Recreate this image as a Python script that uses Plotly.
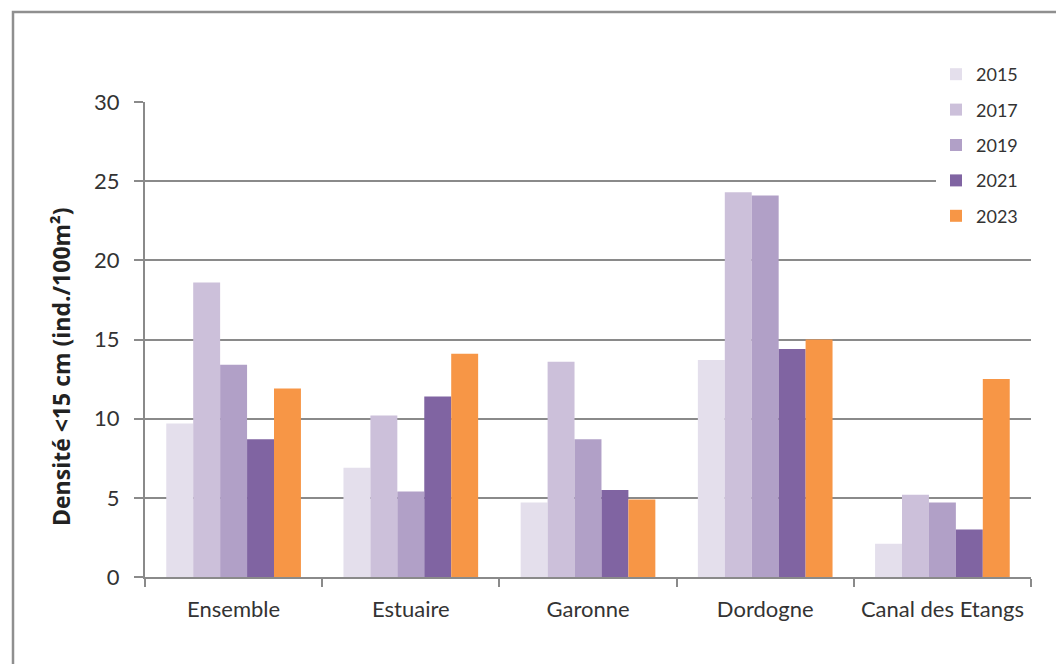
import plotly.graph_objects as go

# Sites and sampling years
sites = ["Ensemble", "Estuaire", "Garonne", "Dordogne", "Canal des Etangs"]
years = ["2015", "2017", "2019", "2021", "2023"]

# Density of eels < 15 cm (ind./100m²) per site, one list per year
d2015 = [9.7, 6.9, 4.7, 13.7, 2.1]
d2017 = [18.6, 10.2, 13.6, 24.3, 5.2]
d2019 = [13.4, 5.4, 8.7, 24.1, 4.7]
d2021 = [8.7, 11.4, 5.5, 14.4, 3.0]
d2023 = [11.9, 14.1, 4.9, 15.0, 12.5]

y_ticks = [0, 5, 10, 15, 20, 25, 30]
y_title = "Densité <15 cm (ind./100m²)"

series = [d2015, d2017, d2019, d2021, d2023]
colors = ["#E4DFEC", "#CCC0DA", "#B1A0C7", "#8064A2", "#F79646"]

W, H = 1056, 664
L, R, T, B = 145, 25, 102, 87
pw = W - L - R
ph = H - T - B


def px_x(p):
    return (p - L) / pw


def px_y(p):
    return (H - B - p) / ph


fig = go.Figure()
for yr, vals, col in zip(years, series, colors):
    fig.add_trace(go.Bar(
        name=yr, x=sites, y=vals, marker=dict(color=col, line=dict(width=0)),
        legendgroup=yr,
    ))

grid_col = "#8A8A8A"
txt_col = "#333333"
base_font = "Lato, Open Sans, sans-serif"

fig.update_layout(
    width=W, height=H,
    margin=dict(l=L, r=R, t=T, b=B, autoexpand=False),
    paper_bgcolor="white", plot_bgcolor="white",
    barmode="group", bargap=0.24, bargroupgap=0,
    showlegend=True,
    legend=dict(
        x=px_x(936), y=px_y(56), xanchor="left", yanchor="top",
        bgcolor="white", borderwidth=0,
        font=dict(family=base_font, size=18, color=txt_col),
        tracegroupgap=9, traceorder="grouped",
    ),
    xaxis=dict(
        showgrid=False, showline=True, linecolor=grid_col, linewidth=2,
        ticks="outside", tickson="boundaries", ticklen=8, tickwidth=2, tickcolor=grid_col,
        tickfont=dict(family=base_font, size=22, color=txt_col),
        ticklabelstandoff=12, automargin=False,
    ),
    yaxis=dict(
        range=[0, 30], tickvals=y_ticks, ticktext=[str(v) for v in y_ticks],
        showgrid=True, gridcolor=grid_col, gridwidth=2,
        showline=True, linecolor=grid_col, linewidth=2, zeroline=False,
        ticks="outside", ticklen=9, tickwidth=2, tickcolor=grid_col,
        tickfont=dict(family=base_font, size=22, color=txt_col),
        ticklabelstandoff=10, automargin=False,
    ),
    annotations=[dict(
        text=y_title, textangle=-90, showarrow=False,
        xref="paper", yref="paper", x=px_x(61), y=px_y(367),
        xanchor="center", yanchor="middle",
        font=dict(family="Open Sans, sans-serif", size=23, color="#222222", weight="bold"),
    )],
    shapes=[
        # white backdrop behind the legend, hiding the gridlines there
        dict(
            type="rect", xref="paper", yref="paper",
            x0=px_x(940), x1=px_x(1045), y0=px_y(238), y1=px_y(55),
            line=dict(width=0), fillcolor="white", layer="above",
        ),
        # outer frame
        dict(
            type="rect", xref="paper", yref="paper",
            x0=px_x(13), x1=px_x(1080), y0=px_y(690), y1=px_y(12),
            line=dict(color="#8F8F8F", width=2.5), fillcolor="rgba(0,0,0,0)", layer="above",
        ),
    ],
)

fig.write_html("out.html")
